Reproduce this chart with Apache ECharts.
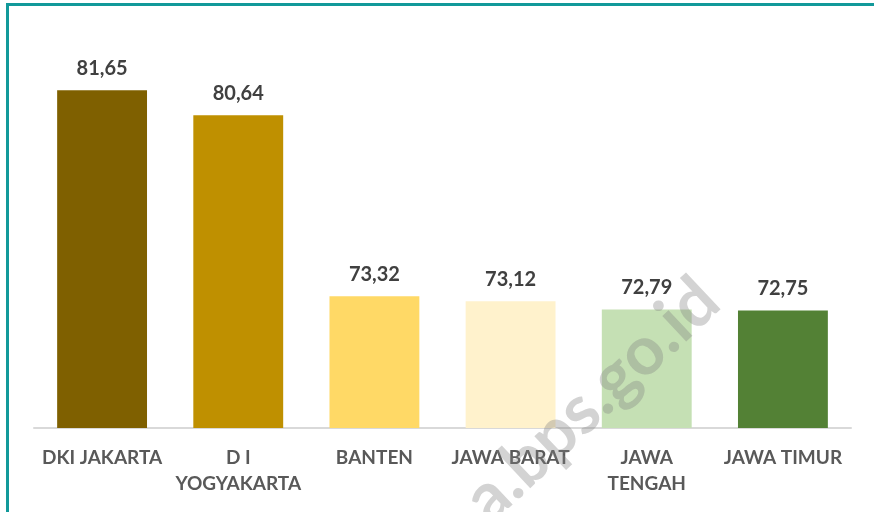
<!DOCTYPE html>
<html>
<head>
<meta charset="utf-8">
<script src="https://cdn.jsdelivr.net/npm/echarts@6/dist/echarts.min.js"></script>
<style>
  html, body { margin: 0; padding: 0; background: #fff; }
  #frame { position: absolute; left: 6px; top: 3px; width: 880px; height: 520px;
           border-top: 3px solid #12999a; border-left: 3px solid #12999a; box-sizing: border-box; }
  #main { position: absolute; left: 0; top: 0; width: 874px; height: 512px; }
</style>
</head>
<body>
<div id="frame"></div>
<div id="main"></div>
<script>
// data
var provinces = ['DKI JAKARTA', 'D I\nYOGYAKARTA', 'BANTEN', 'JAWA BARAT', 'JAWA\nTENGAH', 'JAWA TIMUR'];
var values = [81.65, 80.64, 73.32, 73.12, 72.79, 72.75];
var barColors = ['#7f6000', '#bf9000', '#ffd966', '#fff2cc', '#c5e0b4', '#538135'];

var myChart = echarts.init(document.getElementById('main'));

var option = {
  animation: false,
  grid: { left: 34, right: 23, top: 32, bottom: 84 },
  xAxis: {
    type: 'category',
    data: provinces,
    axisLine: { lineStyle: { color: '#d9d9d9', width: 2 } },
    axisTick: { show: false },
    axisLabel: {
      interval: 0,
      margin: 17,
      color: '#595959',
      fontFamily: 'Lato',
      fontWeight: 'bold',
      fontSize: 19,
      lineHeight: 26
    }
  },
  yAxis: {
    type: 'value',
    min: 68,
    max: 84,
    show: false,
    splitLine: { show: false }
  },
  series: [{
    type: 'bar',
    barWidth: '66%',
    data: values.map(function (v, i) {
      return { value: v, itemStyle: { color: barColors[i] } };
    }),
    label: {
      show: true,
      position: 'top',
      distance: 12,
      color: '#404040',
      fontFamily: 'Lato',
      fontWeight: 'bold',
      fontSize: 20,
      formatter: function (p) { return p.value.toFixed(2).replace('.', ','); }
    }
  }],
  // watermark
  graphic: [{
    type: 'text',
    x: 592,
    y: 400,
    rotation: Math.PI * 0.24,
    z: 100,
    style: {
      text: 'a.bps.go.id',
      fill: 'rgba(128,128,128,0.35)',
      font: 'bold 68px Lato',
      textAlign: 'center',
      textVerticalAlign: 'middle'
    }
  }]
};

myChart.setOption(option);
</script>
</body>
</html>
